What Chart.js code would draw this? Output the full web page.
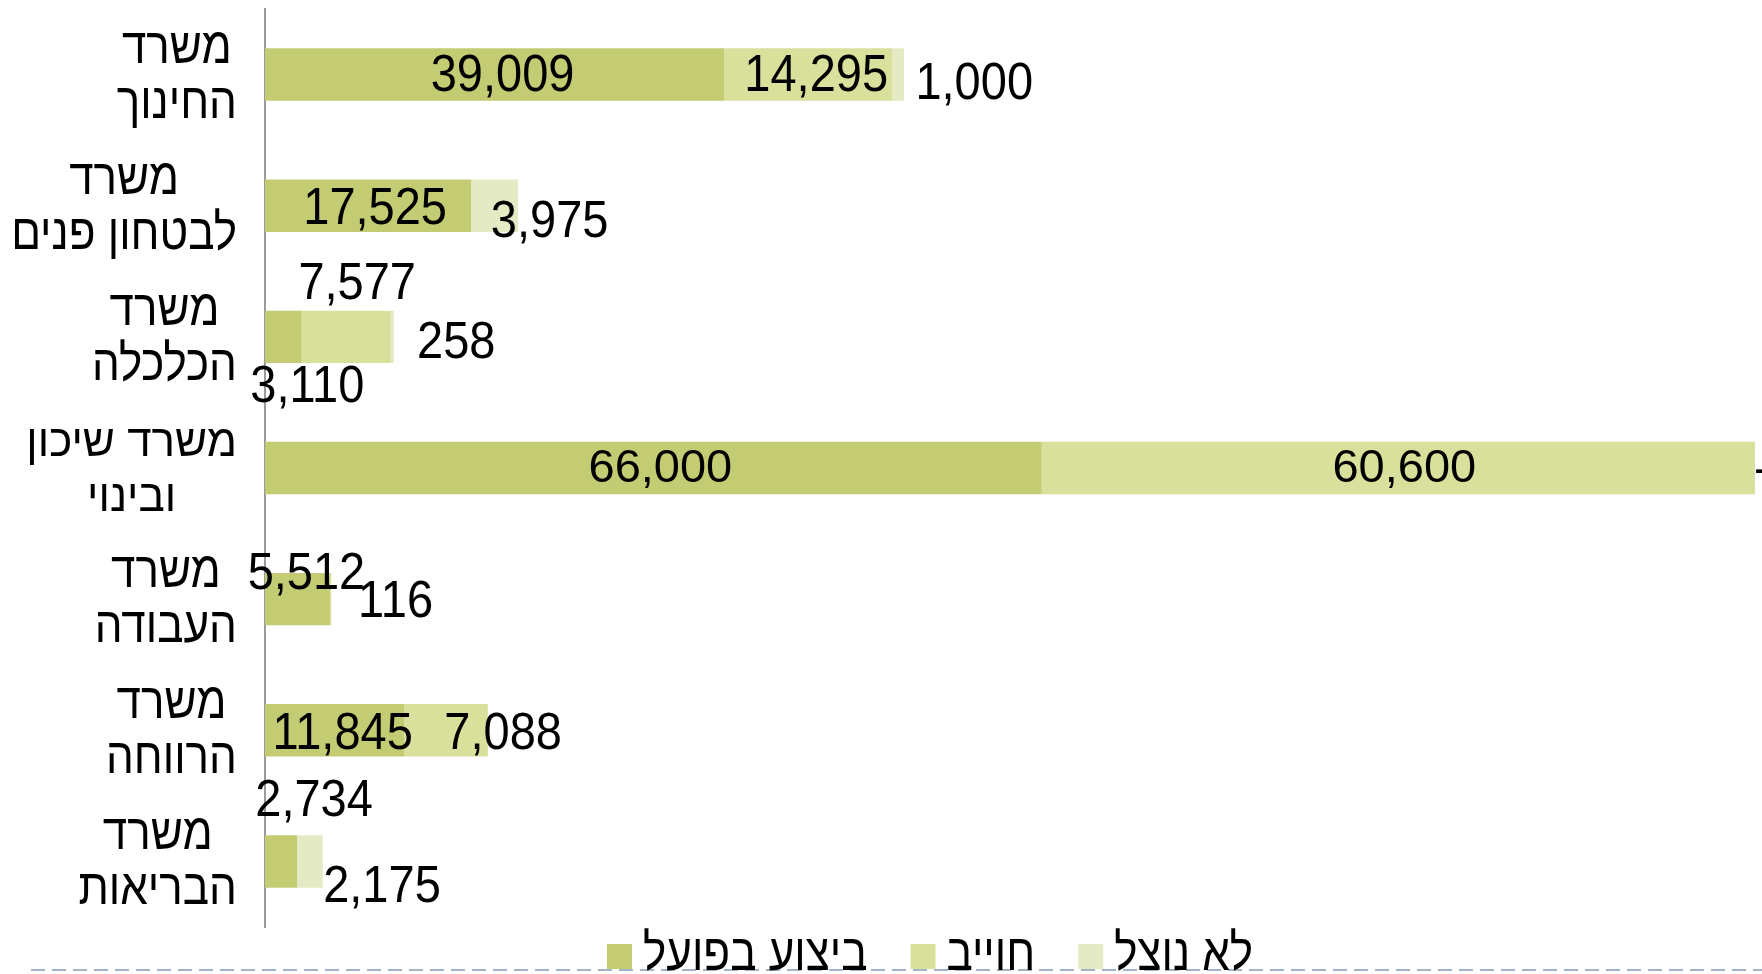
<!DOCTYPE html>
<html lang="he">
<head>
<meta charset="utf-8">
<title>ביצוע תקציב לפי משרד</title>
<script src="https://cdn.jsdelivr.net/npm/chart.js@4.4.1/dist/chart.umd.min.js"></script>
<style>
  html, body { margin: 0; padding: 0; background: #ffffff; overflow: hidden; }
  canvas { display: block; }
</style>
</head>
<body>
<canvas id="budget-chart" width="1762" height="974"></canvas>
<script>
const categories = [
  ["משרד", "החינוך"],
  ["משרד", "לבטחון פנים"],
  ["משרד", "הכלכלה"],
  ["משרד שיכון", "ובינוי"],
  ["משרד", "העבודה"],
  ["משרד", "הרווחה"],
  ["משרד", "הבריאות"]
];
const seriesNames = ["ביצוע בפועל", "חוייב", "לא נוצל"];
const actual = [39009, 17525, 3110, 66000, 5512, 11845, 2734];
const committed = [14295, 0, 7577, 60600, 116, 7088, 0];
const unused = [1000, 3975, 258, 0, 0, 0, 2175];
const seriesColors = ["#c3cc73", "#d9e09b", "#e4eac4"];

// label nudges (px) from the middle of each segment, null = no label
const actualLabelOffsets = [[8, 2], [7, 4], [24, 51], [7, 1], [9, -25], [8, 4], [33, -60]];
const committedLabelOffsets = [[8, 2], null, [11, -52], [6, 1], [65, 3], [57, 4], null];
const unusedLabelOffsets = [[76, 10], [55, 17], [64, 7], [7, 3], null, null, [72, 26]];
// the picture stretches most of its text vertically, not the שיכון row
const textStretch = [1.12, 1.12, 1.12, 1, 1.12, 1.12, 1.12];
const FONT = '"Liberation Sans", Arial, sans-serif';
const NAME_SIZE = 44;

function drawText(ctx, text, x, y, size, stretch, align, baseline){
  ctx.save();
  ctx.font = size + "px " + FONT;
  ctx.fillStyle = "#000000";
  ctx.textAlign = align;
  ctx.textBaseline = baseline;
  ctx.translate(x, y);
  ctx.scale(1, stretch);
  ctx.fillText(text, 0, 0);
  ctx.restore();
}

const valueLabels = {
  id: "valueLabels",
  afterDatasetsDraw: function(chart){
    let ctx = chart.ctx;
    chart.data.datasets.forEach(function(dataset, i){
      let meta = chart.getDatasetMeta(i);
      meta.data.forEach(function(bar, j){
        let offset = dataset.labelOffsets[j];
        if (offset == null)
          return;
        let value = dataset.data[j];
        let text = value == 0 ? "-" : value.toLocaleString("en-US");
        let mid = (bar.x + bar.base) / 2;
        drawText(ctx, text, mid + offset[0], bar.y + offset[1], 47, textStretch[j], "center", "middle");
      });
    });
  }
};

const categoryLabels = {
  id: "categoryLabels",
  afterDraw: function(chart){
    let ctx = chart.ctx;
    let yScale = chart.scales.y;
    let right = chart.chartArea.left - 28;
    ctx.font = NAME_SIZE + "px " + FONT;
    chart.data.labels.forEach(function(lines, i){
      let y = yScale.getPixelForValue(i);
      let width = Math.max(ctx.measureText(lines[0]).width, ctx.measureText(lines[1]).width);
      let cx = right - width / 2;
      drawText(ctx, lines[0], cx, y - 12, NAME_SIZE, textStretch[i] * 1.03, "center", "alphabetic");
      drawText(ctx, lines[1], cx, y + 43, NAME_SIZE, textStretch[i] * 1.03, "center", "alphabetic");
    });
  }
};

const bottomLegend = {
  id: "bottomLegend",
  afterDraw: function(chart){
    let ctx = chart.ctx;
    ctx.save();
    ctx.strokeStyle = "#a0b3c7";
    ctx.lineWidth = 2;
    ctx.setLineDash([14, 7]);
    ctx.beginPath();
    ctx.moveTo(31, 970);
    ctx.lineTo(chart.width, 970);
    ctx.stroke();
    ctx.restore();

    let x = 607;
    chart.data.datasets.forEach(function(dataset){
      ctx.fillStyle = dataset.backgroundColor;
      ctx.fillRect(x, 944, 25, 25);
      x += 36;
      ctx.font = NAME_SIZE + "px " + FONT;
      let w = ctx.measureText(dataset.label).width;
      drawText(ctx, dataset.label, x, 970, NAME_SIZE, 1.16, "left", "alphabetic");
      x += w + 43;
    });
  }
};

function createChart(name){
  let ctx = document.getElementById(name);
  let series = [actual, committed, unused];
  let offsets = [actualLabelOffsets, committedLabelOffsets, unusedLabelOffsets];
  let datasets = [];
  series.forEach(function(values, i){
    datasets.push({
      label: seriesNames[i],
      data: values,
      backgroundColor: seriesColors[i],
      borderWidth: 0,
      categoryPercentage: 1,
      barPercentage: 0.4,
      labelOffsets: offsets[i]
    });
  });

  new Chart(ctx, {
    type: "bar",
    data: {
      labels: categories,
      datasets: datasets
    },
    options: {
      indexAxis: "y",
      responsive: false,
      animation: false,
      devicePixelRatio: 1,
      layout: {
        padding: { left: 265, top: 9, right: 0, bottom: 47 }
      },
      plugins: {
        legend: { display: false },
        tooltip: { enabled: false }
      },
      scales: {
        x: {
          stacked: true,
          min: 0,
          max: 127200,
          display: false
        },
        y: {
          stacked: true,
          grid: { display: false, drawTicks: false },
          ticks: { display: false },
          border: { display: true, color: "#9a9a9a", width: 2 }
        }
      }
    },
    plugins: [valueLabels, categoryLabels, bottomLegend]
  });
}

createChart("budget-chart");
</script>
</body>
</html>
